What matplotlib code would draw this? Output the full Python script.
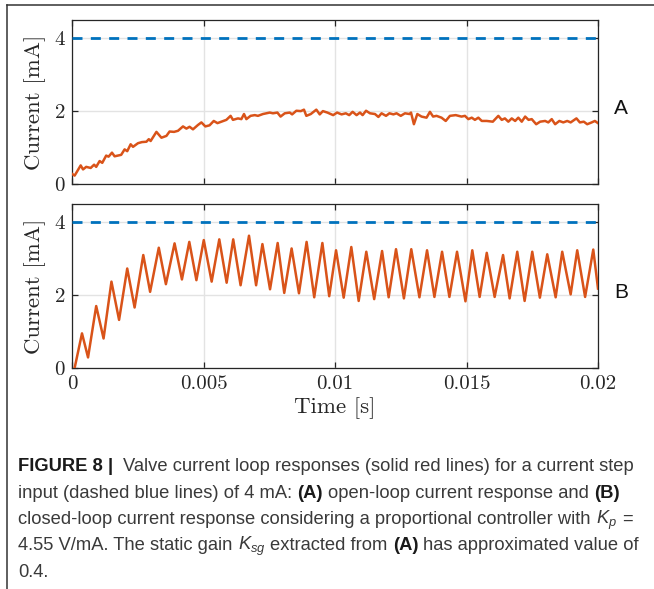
import numpy as np
import matplotlib
matplotlib.use("Agg")
import matplotlib.pyplot as plt
from matplotlib.lines import Line2D

# ---------------- data ----------------
# (A) open-loop response, time in ms
a_time_ms = [0.0, 0.10, 0.33, 0.42, 0.54, 0.71, 0.84, 0.92, 1.05, 1.15, 1.30, 1.39, 1.52, 1.62,
             1.87, 2.00, 2.10, 2.23, 2.32, 2.51, 2.66, 2.83, 2.92, 2.99, 3.21, 3.40, 3.59, 3.71,
             3.88, 4.03, 4.22, 4.35, 4.47, 4.60, 4.79, 4.92, 5.07, 5.23, 5.39, 5.53, 5.68, 5.87,
             6.03, 6.12, 6.31, 6.44, 6.54, 6.63, 6.79, 6.95, 7.07, 7.26, 7.39, 7.52, 7.64, 7.81,
             7.93, 8.09, 8.28, 8.37, 8.53, 8.70, 8.82, 8.91, 9.08, 9.29, 9.42, 9.54, 9.71, 9.93,
             10.08, 10.25, 10.41, 10.54, 10.67, 10.82, 10.95, 11.05, 11.18, 11.33, 11.52, 11.65,
             11.77, 11.94, 12.07, 12.22, 12.34, 12.50, 12.66, 12.83, 12.89, 13.00, 13.13, 13.29,
             13.48, 13.61, 13.73, 13.86, 14.05, 14.21, 14.37, 14.59, 14.81, 14.94, 15.07, 15.20,
             15.32, 15.45, 15.58, 15.77, 16.00, 16.21, 16.34, 16.46, 16.59, 16.72, 16.85, 16.97,
             17.10, 17.23, 17.36, 17.48, 17.65, 17.80, 17.99, 18.11, 18.24, 18.37, 18.53, 18.68,
             18.83, 18.96, 19.18, 19.31, 19.46, 19.59, 19.76, 19.88, 20.0]
a_current = [0.28, 0.23, 0.51, 0.40, 0.47, 0.44, 0.53, 0.47, 0.63, 0.58, 0.78, 0.75, 0.86, 0.76,
             0.80, 0.95, 0.90, 1.09, 1.02, 1.12, 1.15, 1.16, 1.23, 1.18, 1.43, 1.27, 1.32, 1.44,
             1.43, 1.46, 1.58, 1.52, 1.57, 1.50, 1.62, 1.69, 1.58, 1.61, 1.73, 1.67, 1.71, 1.76,
             1.87, 1.76, 1.80, 1.78, 1.92, 1.78, 1.87, 1.89, 1.87, 1.92, 1.94, 1.96, 1.94, 1.96,
             1.85, 1.94, 1.96, 1.91, 2.01, 2.00, 2.04, 1.87, 1.92, 2.04, 1.91, 2.00, 1.96, 1.89,
             1.96, 1.91, 1.94, 1.89, 1.98, 1.89, 1.96, 1.89, 2.01, 1.94, 1.92, 1.84,
             1.94, 1.87, 1.94, 1.91, 1.94, 1.87, 1.94, 1.92, 1.96, 1.64, 1.92, 1.85,
             1.82, 1.98, 1.85, 1.87, 1.82, 1.73, 1.87, 1.89, 1.85, 1.87, 1.78, 1.82,
             1.76, 1.82, 1.73, 1.73, 1.71, 1.87, 1.76, 1.80, 1.71, 1.80, 1.73, 1.82,
             1.71, 1.85, 1.76, 1.78, 1.64, 1.71, 1.73, 1.69, 1.78, 1.64, 1.73, 1.69,
             1.73, 1.69, 1.80, 1.69, 1.71, 1.64, 1.69, 1.73, 1.67]

# (B) closed-loop response, time in ms (peaks and troughs)
b_time_ms = [0.10, 0.38, 0.61, 0.92, 1.20, 1.50, 1.79, 2.10, 2.38, 2.71, 2.97, 3.30, 3.57, 3.90,
             4.18, 4.46, 4.73, 5.01, 5.31, 5.60, 5.88, 6.13, 6.41, 6.73, 7.00, 7.24, 7.53, 7.82,
             8.07, 8.35, 8.63, 8.92, 9.21, 9.52, 9.78, 10.04, 10.33, 10.62, 10.90, 11.19, 11.49,
             11.79, 12.04, 12.32, 12.62, 12.90, 13.21, 13.50, 13.78, 14.07, 14.35, 14.64, 14.96,
             15.22, 15.50, 15.77, 16.07, 16.39, 16.64, 16.93, 17.21, 17.50, 17.79, 18.07, 18.39,
             18.64, 18.96, 19.21, 19.51, 19.82, 20.0]
b_current = [0.00, 0.95, 0.29, 1.70, 0.81, 2.37, 1.32, 2.73, 1.66, 3.10, 2.09, 3.30, 2.30, 3.42,
             2.43, 3.46, 2.41, 3.51, 2.37, 3.53, 2.34, 3.53, 2.27, 3.63, 2.27, 3.40, 2.16, 3.43,
             2.06, 3.28, 2.05, 3.46, 1.94, 3.43, 1.97, 3.23, 1.93, 3.32, 1.84, 3.19, 1.89,
             3.21, 1.94, 3.26, 1.91, 3.26, 1.94, 3.23, 1.95, 3.19, 1.95, 3.19, 1.83,
             3.23, 1.95, 3.16, 1.95, 3.10, 1.91, 3.19, 1.84, 3.19, 1.93, 3.12, 1.94,
             3.19, 2.02, 3.23, 1.95, 3.25, 2.18]

step_time = [0.0, 0.02]
step_current = [4.0, 4.0]

x_ticks = [0, 0.005, 0.01, 0.015, 0.02]
x_tick_labels = ["0", "0.005", "0.01", "0.015", "0.02"]
y_ticks = [0, 2, 4]
y_tick_labels = ["0", "2", "4"]

# ---------------- style ----------------
plt.rcParams["mathtext.fontset"] = "custom"
plt.rcParams["mathtext.rm"] = "Liberation Sans"
plt.rcParams["mathtext.it"] = "Liberation Sans:italic"
plt.rcParams["mathtext.bf"] = "Liberation Sans:bold"

RED = "#D95319"
BLUE = "#0072BD"
SPINE = "#262626"
GRID = "#e3e3e3"
TICKFONT = "cmr10"

W, H = 654, 589
fig = plt.figure(figsize=(W / 100, H / 100), dpi=100)


def frac(x0, y0, x1, y1):
    return [x0 / W, 1 - y1 / H, (x1 - x0) / W, (y1 - y0) / H]


axA = fig.add_axes(frac(72, 20, 598, 184))
axB = fig.add_axes(frac(72, 204, 598, 368))

a_t = np.array(a_time_ms) / 1000.0
b_t = np.array(b_time_ms) / 1000.0

for ax, t, y in [(axA, a_t, a_current), (axB, b_t, b_current)]:
    ax.plot(step_time, step_current, color=BLUE, lw=2.0, dashes=[3.6, 3.0], zorder=3)
    ax.plot(t, y, color=RED, lw=1.8, solid_joinstyle="round", zorder=4)
    ax.set_xlim(0, 0.02)
    ax.set_ylim(0, 4.5)
    ax.set_xticks(x_ticks)
    ax.set_yticks(y_ticks)
    ax.set_yticklabels(y_tick_labels, fontfamily=TICKFONT, fontsize=15)
    ax.grid(True, color=GRID, lw=1.0, zorder=0)
    ax.set_axisbelow(True)
    for s in ax.spines.values():
        s.set_color(SPINE)
        s.set_linewidth(0.9)
    ax.tick_params(direction="in", length=4, width=0.9, color=SPINE,
                   top=True, right=True, labelcolor="#262626", pad=5)
    ax.set_ylabel("Current [mA]", fontfamily=TICKFONT, fontsize=16.5, color="#262626", labelpad=6)

axA.set_xticklabels([])
axB.set_xticklabels(x_tick_labels, fontfamily=TICKFONT, fontsize=15)
axB.set_xlabel("Time [s]", fontfamily=TICKFONT, fontsize=16.5, color="#262626", labelpad=3)

# panel letters
fig.text(621 / W, 1 - 108 / H, "A", ha="center", va="center", fontsize=15,
         family="Liberation Sans", color="#111111")
fig.text(621 / W, 1 - 292 / H, "B", ha="center", va="center", fontsize=15,
         family="Liberation Sans", color="#111111")

# frame (top and left edges)
fig.add_artist(Line2D([7 / W, 1.0], [1 - 5 / H, 1 - 5 / H], transform=fig.transFigure,
                      color="#333333", lw=1.1))
fig.add_artist(Line2D([7 / W, 7 / W], [1 - 5 / H, 0.0], transform=fig.transFigure,
                      color="#333333", lw=1.1))

# ---------------- caption ----------------
renderer = fig.canvas.get_renderer()
CAP_FONT = "Liberation Sans"
NORMAL_C = "#3a3a3a"
BOLD_C = "#1a1a1a"

caption_lines = [
    [("FIGURE 8 |", "b"), ("  Valve current loop responses (solid red lines) for a current step", "n")],
    [("input (dashed blue lines) of 4 mA: ", "n"), ("(A)", "b"),
     (" open-loop current response and ", "n"), ("(B)", "b")],
    [("closed-loop current response considering a proportional controller with ", "n"),
     ("$K_p$", "n"), (" =", "n")],
    [("4.55 V/mA. The static gain ", "n"), ("$K_{sg}$", "n"), (" extracted from ", "n"),
     ("(A)", "b"), (" has approximated value of", "n")],
    [("0.4.", "n")],
]
caption_baselines = [471, 498, 524, 550, 577]


def space_width(size, weight):
    t1 = fig.text(0, 0, "a a", fontsize=size, family=CAP_FONT, fontweight=weight)
    t2 = fig.text(0, 0, "aa", fontsize=size, family=CAP_FONT, fontweight=weight)
    w = t1.get_window_extent(renderer).width - t2.get_window_extent(renderer).width
    t1.remove()
    t2.remove()
    return w


def draw_line(runs, x0, ybase, size, keep=True):
    x = x0
    made = []
    for txt, kind in runs:
        weight = "bold" if kind == "b" else "normal"
        color = BOLD_C if kind == "b" else NORMAL_C
        sw = space_width(size, weight)
        lead = len(txt) - len(txt.lstrip(" "))
        trail = len(txt) - len(txt.rstrip(" "))
        core = txt.strip(" ")
        x += lead * sw
        t = fig.text(x / W, 1 - ybase / H, core, fontsize=size, family=CAP_FONT,
                     fontweight=weight, color=color, ha="left", va="baseline")
        x += t.get_window_extent(renderer).width + trail * sw
        made.append(t)
    if not keep:
        for t in made:
            t.remove()
    return x - x0


trial = 12.0
w1 = draw_line(caption_lines[0], 18, caption_baselines[0], trial, keep=False)
cap_size = trial * 617.0 / w1
for runs, yb in zip(caption_lines, caption_baselines):
    draw_line(runs, 18, yb, cap_size)

fig.savefig("out.png", dpi=100)
